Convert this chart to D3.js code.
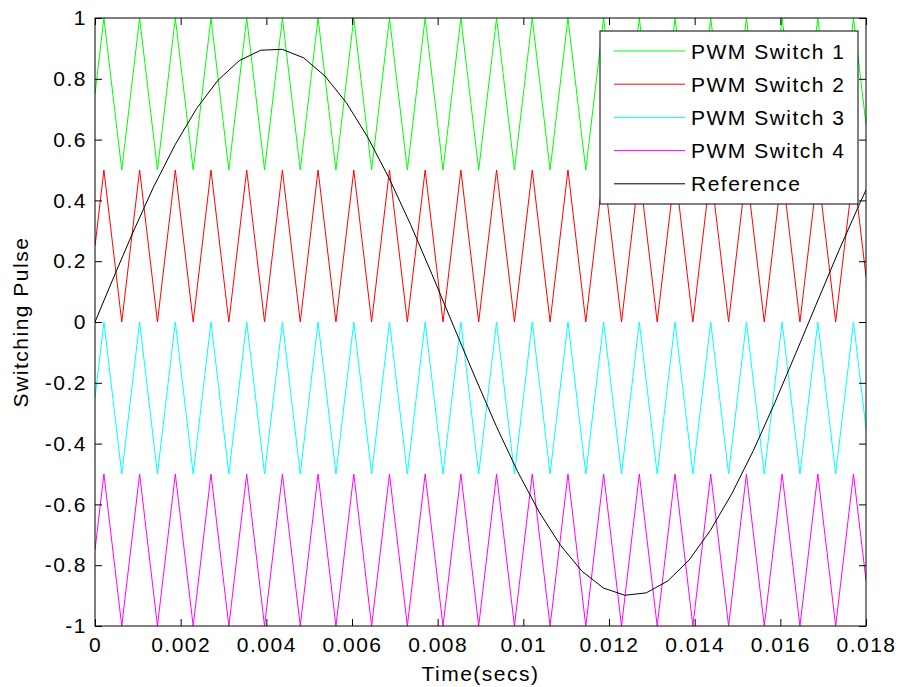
<!DOCTYPE html>
<html>
<head>
<meta charset="utf-8">
<script src="https://cdn.jsdelivr.net/npm/d3@7"></script>
<style>
  html, body { margin: 0; padding: 0; background: #fff; }
  svg { display: block; }
  text { font-family: "Liberation Sans", Arial, Helvetica, sans-serif; font-size: 21px; letter-spacing: 1.5px; fill: #000; }
</style>
</head>
<body>
<svg id="chart" width="898" height="687"></svg>
<script>
// ---------------- DATA ----------------
const xTicks = [0, 0.002, 0.004, 0.006, 0.008, 0.01, 0.012, 0.014, 0.016, 0.018];
const xTickLabels = ["0", "0.002", "0.004", "0.006", "0.008", "0.01", "0.012", "0.014", "0.016", "0.018"];
const yTicks = [-1, -0.8, -0.6, -0.4, -0.2, 0, 0.2, 0.4, 0.6, 0.8, 1];
const yTickLabels = ["-1", "-0.8", "-0.6", "-0.4", "-0.2", "0", "0.2", "0.4", "0.6", "0.8", "1"];

// carrier vertex times (s)
const carrierTimes = [0, 0.000208, 0.000625, 0.001042, 0.001458, 0.001875, 0.002292, 0.002708, 0.003125,
  0.003542, 0.003958, 0.004375, 0.004792, 0.005208, 0.005625, 0.006042, 0.006458, 0.006875, 0.007292,
  0.007708, 0.008125, 0.008542, 0.008958, 0.009375, 0.009792, 0.010208, 0.010625, 0.011042, 0.011458,
  0.011875, 0.012292, 0.012708, 0.013125, 0.013542, 0.013958, 0.014375, 0.014792, 0.015208, 0.015625,
  0.016042, 0.016458, 0.016875, 0.017292, 0.017708, 0.018];

const pwm1 = [0.75,
  1, 0.5, 1, 0.5, 1, 0.5, 1, 0.5, 1, 0.5, 1, 0.5, 1, 0.5,
  1, 0.5, 1, 0.5, 1, 0.5, 1, 0.5, 1, 0.5, 1, 0.5, 1, 0.5,
  1, 0.5, 1, 0.5, 1, 0.5, 1, 0.5, 1, 0.5, 1, 0.5, 1, 0.5,
  1, 0.65];
const pwm2 = [0.25,
  0.5, 0, 0.5, 0, 0.5, 0, 0.5, 0, 0.5, 0, 0.5, 0, 0.5, 0,
  0.5, 0, 0.5, 0, 0.5, 0, 0.5, 0, 0.5, 0, 0.5, 0, 0.5, 0,
  0.5, 0, 0.5, 0, 0.5, 0, 0.5, 0, 0.5, 0, 0.5, 0, 0.5, 0,
  0.5, 0.15];
const pwm3 = [-0.25,
  0, -0.5, 0, -0.5, 0, -0.5, 0, -0.5, 0, -0.5, 0, -0.5, 0, -0.5,
  0, -0.5, 0, -0.5, 0, -0.5, 0, -0.5, 0, -0.5, 0, -0.5, 0, -0.5,
  0, -0.5, 0, -0.5, 0, -0.5, 0, -0.5, 0, -0.5, 0, -0.5, 0, -0.5,
  0, -0.35];
const pwm4 = [-0.75,
  -0.5, -1, -0.5, -1, -0.5, -1, -0.5, -1, -0.5, -1, -0.5, -1, -0.5, -1,
  -0.5, -1, -0.5, -1, -0.5, -1, -0.5, -1, -0.5, -1, -0.5, -1, -0.5, -1,
  -0.5, -1, -0.5, -1, -0.5, -1, -0.5, -1, -0.5, -1, -0.5, -1, -0.5, -1,
  -0.5, -0.85];

// reference sampled points
const refTimes = [0, 0.00037, 0.00087, 0.00137, 0.00187, 0.00237, 0.00287, 0.00337, 0.00387, 0.00437,
  0.00487, 0.00537, 0.00587, 0.00637, 0.00687, 0.00737, 0.00787, 0.00837, 0.00887, 0.00937, 0.00987,
  0.01037, 0.01087, 0.01137, 0.01187, 0.01237, 0.01287, 0.01337, 0.01387, 0.01437, 0.01487, 0.01537,
  0.01587, 0.01637, 0.01687, 0.01737, 0.01787, 0.018];
const refValues = [0, 0.125, 0.290, 0.445, 0.583, 0.702, 0.795, 0.860, 0.894, 0.897,
  0.869, 0.809, 0.721, 0.607, 0.472, 0.320, 0.156, -0.013, -0.181, -0.343, -0.493,
  -0.625, -0.735, -0.820, -0.875, -0.899, -0.891, -0.852, -0.783, -0.685, -0.564, -0.423,
  -0.266, -0.100, 0.069, 0.236, 0.395, 0.434];

const seriesNames = ["PWM Switch 1", "PWM Switch 2", "PWM Switch 3", "PWM Switch 4", "Reference"];
const seriesColors = ["#00ff00", "#ff0000", "#00ffff", "#ff00ff", "#000000"];

// ---------------- CHART ----------------
const svg = d3.select("#chart");
const L = 95, R = 866, T = 18, B = 626;
const x = d3.scaleLinear().domain([0, 0.018]).range([L, R]);
const y = d3.scaleLinear().domain([-1, 1]).range([B, T]);

svg.append("rect").attr("width", 898).attr("height", 687).attr("fill", "#fff");

svg.append("clipPath").attr("id", "clip")
  .append("rect").attr("x", L).attr("y", T).attr("width", R - L).attr("height", B - T);

const line = d3.line().x(d => x(d[0])).y(d => y(d[1]));
const plot = svg.append("g").attr("clip-path", "url(#clip)");

const carriers = [pwm1, pwm2, pwm3, pwm4];
carriers.forEach((vals, i) => {
  plot.append("path")
    .datum(carrierTimes.map((t, j) => [t, vals[j]]))
    .attr("fill", "none").attr("stroke", seriesColors[i]).attr("stroke-width", 1)
    .attr("d", line);
});
plot.append("path")
  .datum(refTimes.map((t, j) => [t, refValues[j]]))
  .attr("fill", "none").attr("stroke", seriesColors[4]).attr("stroke-width", 1)
  .attr("d", line);

// axes
const ax = svg.append("g").attr("transform", `translate(0,${B})`)
  .call(d3.axisBottom(x).tickValues(xTicks).tickSize(-7).tickSizeOuter(0).tickPadding(11)
    .tickFormat((d, i) => xTickLabels[i]));
const axTop = svg.append("g").attr("transform", `translate(0,${T})`)
  .call(d3.axisTop(x).tickValues(xTicks).tickSize(-7).tickSizeOuter(0).tickFormat(""));
const ay = svg.append("g").attr("transform", `translate(${L},0)`)
  .call(d3.axisLeft(y).tickValues(yTicks).tickSize(-7).tickSizeOuter(0).tickPadding(8)
    .tickFormat((d, i) => yTickLabels[i]));
const ayR = svg.append("g").attr("transform", `translate(${R},0)`)
  .call(d3.axisRight(y).tickValues(yTicks).tickSize(-7).tickSizeOuter(0).tickFormat(""));

[ax, axTop, ay, ayR].forEach(g => {
  g.select(".domain").remove();
  g.attr("font-size", null).attr("font-family", null);
  g.selectAll(".tick line").attr("stroke", "#000").attr("stroke-width", 1);
});

svg.append("rect").attr("x", L).attr("y", T).attr("width", R - L).attr("height", B - T)
  .attr("fill", "none").attr("stroke", "#000").attr("stroke-width", 1);

// axis titles
svg.append("text").attr("x", (L + R) / 2).attr("y", 681).attr("text-anchor", "middle").text("Time(secs)");
svg.append("text").attr("transform", `translate(28,${(T + B) / 2}) rotate(-90)`)
  .attr("text-anchor", "middle").text("Switching Pulse");

// legend
const lg = svg.append("g");
lg.append("rect").attr("x", 600).attr("y", 31).attr("width", 258).attr("height", 173)
  .attr("fill", "#fff").attr("stroke", "#000").attr("stroke-width", 1);
seriesNames.forEach((name, i) => {
  const yy = 51 + i * 33.2;
  lg.append("line").attr("x1", 614).attr("x2", 685).attr("y1", yy).attr("y2", yy)
    .attr("stroke", seriesColors[i]).attr("stroke-width", 1);
  lg.append("text").attr("x", 691).attr("y", yy).attr("dy", "0.36em").text(name);
});
</script>
</body>
</html>
